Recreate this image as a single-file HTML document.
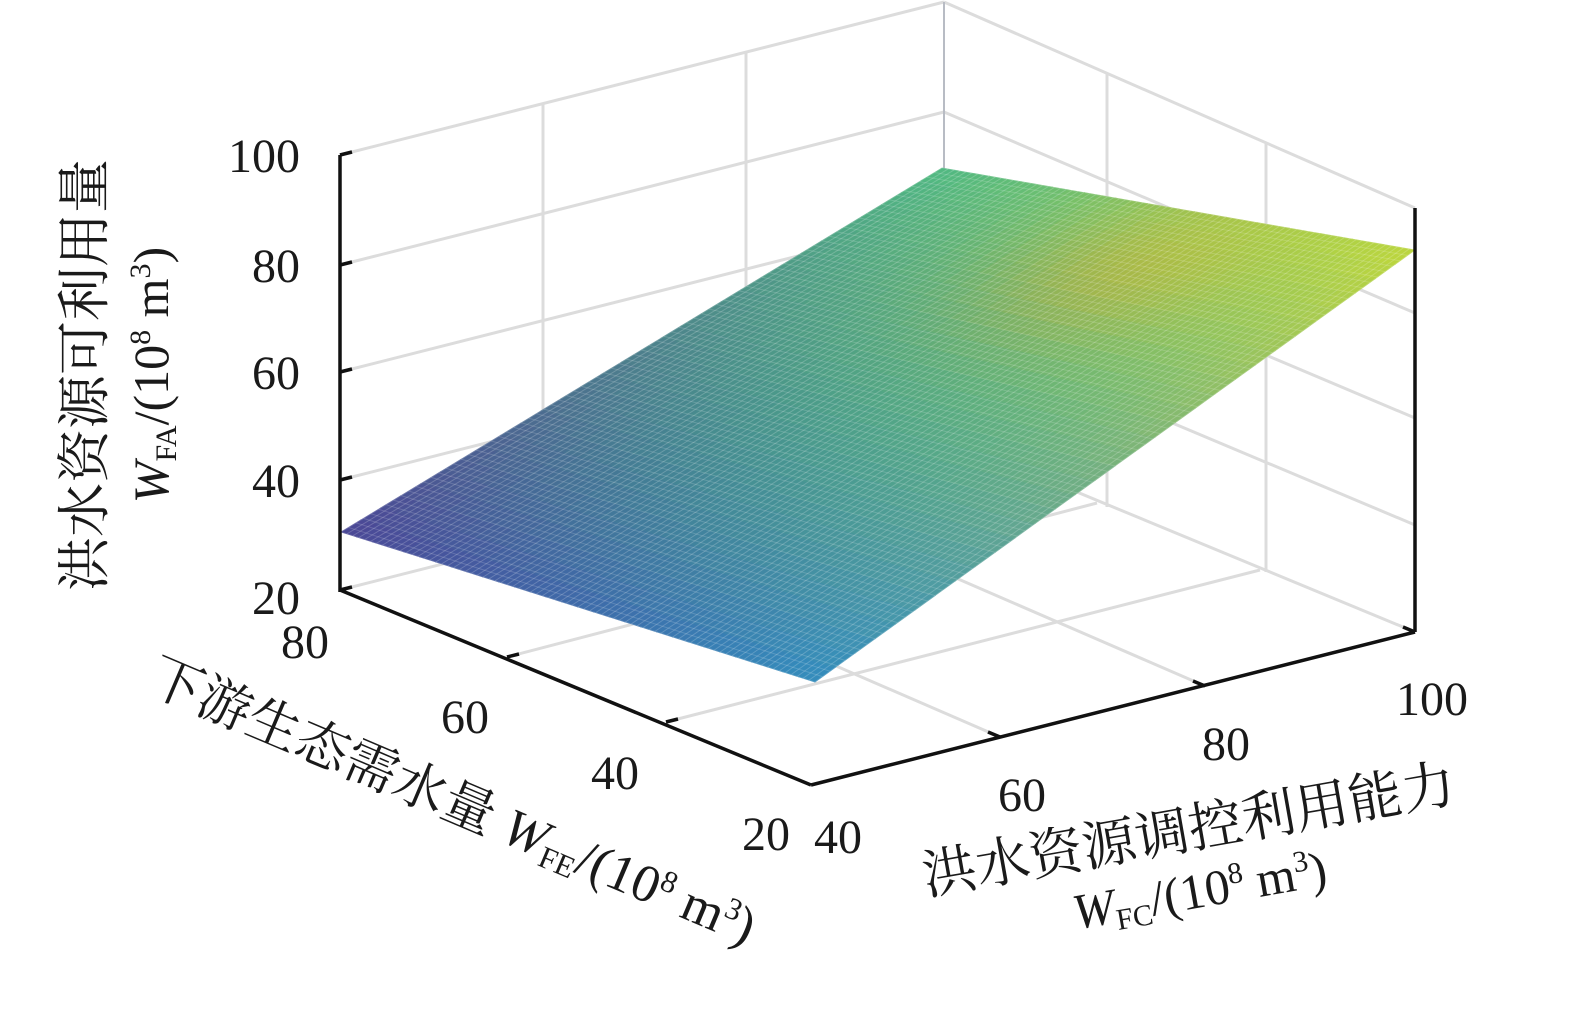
<!DOCTYPE html>
<html><head><meta charset="utf-8"><style>
html,body{margin:0;padding:0;background:#fff;}
svg{display:block;}
text{font-family:"Liberation Serif","Noto Serif CJK SC","Noto Sans CJK SC",serif;fill:#1a1a1a;}
</style></head><body>
<svg id="s" width="1575" height="1020" viewBox="0 0 1575 1020" xmlns="http://www.w3.org/2000/svg">
<g stroke="#dcdcdc" stroke-width="3" fill="none">
  <line x1="340" y1="155" x2="944" y2="2"/>
  <line x1="340" y1="265" x2="944" y2="112"/>
  <line x1="340" y1="372" x2="944" y2="219"/>
  <line x1="340" y1="480" x2="944" y2="327"/>
  <line x1="543" y1="104" x2="543" y2="539"/>
  <line x1="746" y1="52" x2="746" y2="487"/>
  <line x1="944" y1="2" x2="1415" y2="208"/>
  <line x1="944" y1="112" x2="1415" y2="313"/>
  <line x1="944" y1="219" x2="1415" y2="418"/>
  <line x1="944" y1="327" x2="1415" y2="525"/>
  <line x1="1107" y1="73" x2="1107" y2="507"/>
  <line x1="1266" y1="142" x2="1266" y2="572"/>
  <line x1="340" y1="590" x2="944" y2="437"/>
  <line x1="944" y1="437" x2="1415" y2="632"/>
  <line x1="507" y1="657" x2="1097" y2="503"/>
  <line x1="666" y1="722" x2="1260" y2="570"/>
  <line x1="1000" y1="737" x2="543" y2="539"/>
  <line x1="1205" y1="686" x2="746" y2="487"/>
</g>
<g stroke="#b8bcc4" stroke-width="2"><line x1="944" y1="2" x2="944" y2="437"/></g>
<g id="surf"></g>
<g stroke="#111" stroke-width="3.5" fill="none">
  <line x1="340" y1="155" x2="340" y2="592"/>
  <line x1="340" y1="155" x2="352" y2="152"/>
  <line x1="340" y1="265" x2="352" y2="262"/>
  <line x1="340" y1="372" x2="352" y2="369"/>
  <line x1="340" y1="480" x2="352" y2="477"/>
  <line x1="340" y1="590" x2="352" y2="587"/>
  <line x1="340" y1="590" x2="811" y2="785"/>
  <line x1="811" y1="785" x2="1415" y2="632"/>
  <line x1="1415" y1="632" x2="1415" y2="208"/>
  <line x1="507" y1="657" x2="519" y2="654"/>
  <line x1="666" y1="722" x2="678" y2="719"/>
  <line x1="1000" y1="737" x2="988" y2="732"/>
  <line x1="1205" y1="686" x2="1193" y2="681"/>
  <line x1="1415" y1="632" x2="1403" y2="627"/>
</g>
<g font-size="48" text-anchor="end">
  <text x="300" y="172">100</text>
  <text x="300" y="282">80</text>
  <text x="300" y="389">60</text>
  <text x="300" y="497">40</text>
  <text x="300" y="614">20</text>
</g>
<g font-size="48" text-anchor="middle">
  <text x="305" y="658">80</text>
  <text x="465" y="733">60</text>
  <text x="615" y="789">40</text>
  <text x="766" y="850">20</text>
  <text x="838" y="853">40</text>
  <text x="1022" y="811">60</text>
  <text x="1226" y="760">80</text>
  <text x="1432" y="715">100</text>
</g>
<g transform="translate(103,375) rotate(-90)" font-size="54" text-anchor="middle">
  <text x="0" y="0">洪水资源可利用量</text>
</g>
<g transform="translate(168,375) rotate(-90)" font-size="50" text-anchor="middle">
  <text x="0" y="0"><tspan font-style="italic">W</tspan><tspan font-size="30" dy="8">FA</tspan><tspan dy="-8">/(10</tspan><tspan font-size="30" dy="-18">8</tspan><tspan dy="18"> m</tspan><tspan font-size="30" dy="-18">3</tspan><tspan dy="18">)</tspan></text>
</g>
<g transform="translate(145,690) rotate(23)" font-size="53">
  <text x="0" y="0">下游生态需水量 <tspan font-style="italic">W</tspan><tspan font-size="31" dy="8">FE</tspan><tspan dy="-8">/(10</tspan><tspan font-size="31" dy="-18">8</tspan><tspan dy="18"> m</tspan><tspan font-size="31" dy="-18">3</tspan><tspan dy="18">)</tspan></text>
</g>
<g transform="translate(1192,848) rotate(-10)" font-size="54" text-anchor="middle">
  <text x="0" y="0">洪水资源调控利用能力</text>
  <text x="0" y="60" font-size="50"><tspan font-style="italic">W</tspan><tspan font-size="30" dy="8">FC</tspan><tspan dy="-8">/(10</tspan><tspan font-size="30" dy="-18">8</tspan><tspan dy="18"> m</tspan><tspan font-size="30" dy="-18">3</tspan><tspan dy="18">)</tspan></text>
</g>
</svg>
<script>
(function(){
var g=document.getElementById('surf');
var L=[341,532],F=[815,682],R=[1415,250],B=[942,168];
var cL=[75,70,150],cF=[50,140,190],cR=[190,215,60],cB=[80,185,130];
function pt(u,v){
 var x=(1-u)*(1-v)*L[0]+u*(1-v)*F[0]+u*v*R[0]+(1-u)*v*B[0];
 var y=(1-u)*(1-v)*L[1]+u*(1-v)*F[1]+u*v*R[1]+(1-u)*v*B[1];
 return [x,y];}
function col(u,v){var c=[];for(var i=0;i<3;i++){c[i]=(1-u)*(1-v)*cL[i]+u*(1-v)*cF[i]+u*v*cR[i]+(1-u)*v*cB[i];}
 // push middle toward teal
 var m=4*u*(1-u)*4*v*(1-v);
 c[0]-=m*18;c[1]+=m*12;c[2]+=m*2;
 var d=Math.exp(-(((u-0.55)*(u-0.55))/0.05+((v-0.85)*(v-0.85))/0.03));
 c[0]+=d*45;c[1]-=d*10;c[2]-=d*30;
 return 'rgb('+c.map(function(x){return Math.max(0,Math.min(255,Math.round(x)));}).join(',')+')';}
var N=30,html='';
for(var i=0;i<N;i++)for(var j=0;j<N;j++){
 var a=pt(i/N,j/N),b=pt((i+1)/N,j/N),c=pt((i+1)/N,(j+1)/N),d=pt(i/N,(j+1)/N);
 var cc=col((i+.5)/N,(j+.5)/N);
 html+='<polygon points="'+a+' '+b+' '+c+' '+d+'" fill="'+cc+'" stroke="'+cc+'" stroke-width="0.8"/>';}
var M=80;
for(var k=0;k<=M;k++){
 var p1=pt(k/M,0),p2=pt(k/M,1),q1=pt(0,k/M),q2=pt(1,k/M);
 html+='<line x1="'+p1[0]+'" y1="'+p1[1]+'" x2="'+p2[0]+'" y2="'+p2[1]+'" stroke="rgba(255,255,255,0.2)" stroke-width="1"/>';
 html+='<line x1="'+q1[0]+'" y1="'+q1[1]+'" x2="'+q2[0]+'" y2="'+q2[1]+'" stroke="rgba(255,255,255,0.16)" stroke-width="1"/>';}
g.innerHTML=html;
})();
</script>
</body></html>
